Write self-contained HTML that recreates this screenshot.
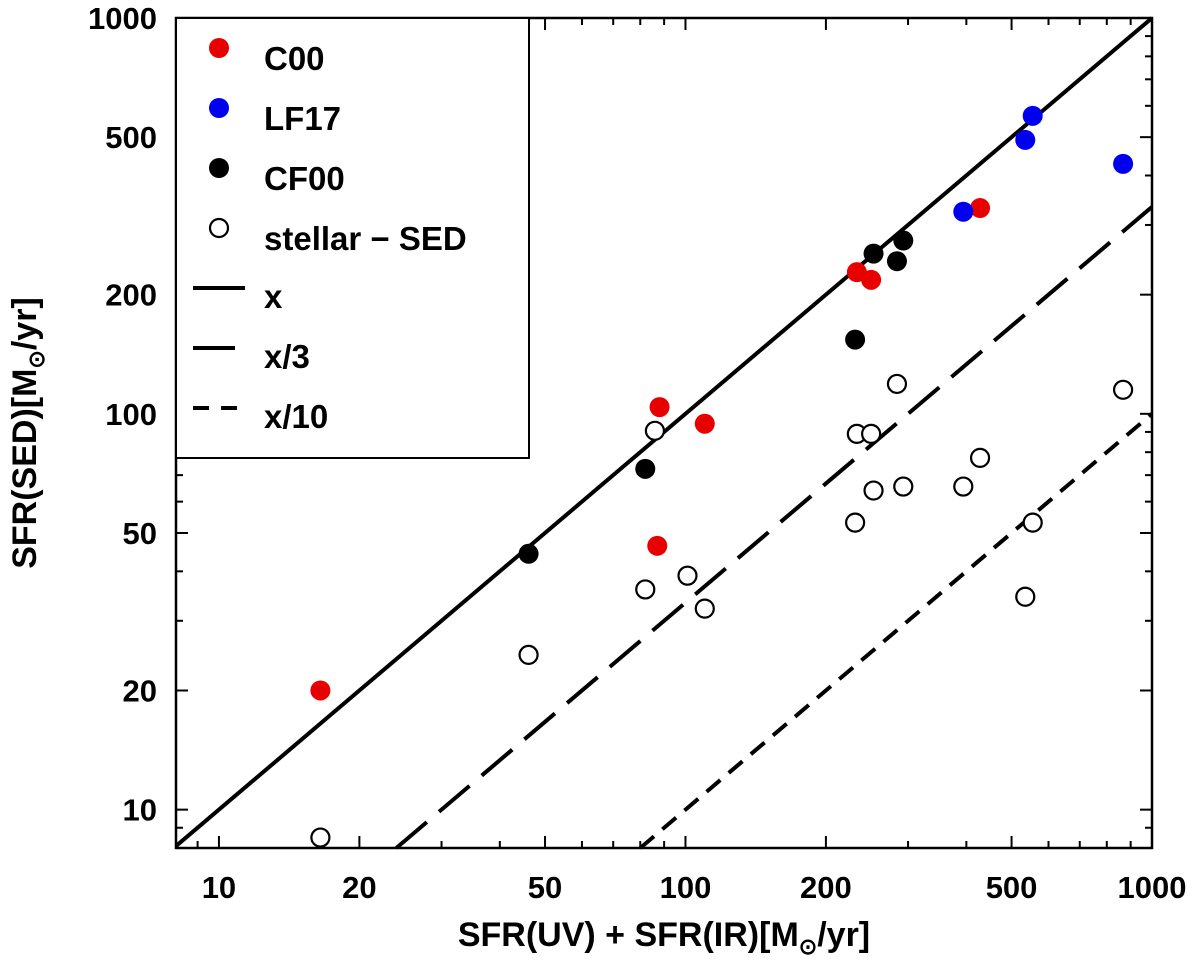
<!DOCTYPE html>
<html><head><meta charset="utf-8"><style>
body{margin:0;background:#fff}
text{font-family:"Liberation Sans",sans-serif;font-weight:bold}
</style></head><body>
<svg id="chart" width="1200" height="962" xmlns="http://www.w3.org/2000/svg">
<g id="lines"></g><g id="pts"></g><g id="axes"></g><g id="legend"></g>
</svg>
<script>
const c00X=[16.5,87,88,110,233,250,428];
const c00Y=[20.0,46.4,104,94.4,228,218,331];
const lf17X=[394,535,555,867];
const lf17Y=[324,492,566,428];
const cf00X=[46.1,82,231,253,284,293];
const cf00Y=[44.3,72.6,154,254,243,274];
const sedX=[16.5,46.1,82,86,101,110,231,233,250,253,284,293,394,428,535,555,867];
const sedY=[8.5,24.6,36,90.6,39,32.2,53.1,89,89,64,119,65.5,65.5,77.4,34.5,53.1,115];
const majorTicks=[10,20,50,100,200,500,1000];
const divisors=[1,3,10];

const L=176,R=1152,T=18,B=848,XMIN=8.09,YMIN=8.0,MAX=1000;
const sx=v=>L+(Math.log10(v)-Math.log10(XMIN))/(3-Math.log10(XMIN))*(R-L);
const sy=v=>B-(Math.log10(v)-Math.log10(YMIN))/(3-Math.log10(YMIN))*(B-T);
const NS="http://www.w3.org/2000/svg";
function mk(tag,attrs,parent){const e=document.createElementNS(NS,tag);for(const k in attrs)e.setAttribute(k,attrs[k]);parent.appendChild(e);return e;}

const lines=document.getElementById('lines');
const dashes=["none","40 16","18 11"];
const lineNames=['line-x','line-x-over-3','line-x-over-10'];
divisors.forEach((d,i)=>{
  let x0=Math.max(XMIN,YMIN*d),x1=MAX;
  const e=mk('line',{x1:sx(x0),y1:sy(x0/d),x2:sx(x1),y2:sy(x1/d),stroke:'#000','stroke-width':4,'stroke-dasharray':dashes[i]},lines);
  
  
});

const pts=document.getElementById('pts');
function series(xs,ys,fill,name){
  xs.forEach((x,i)=>{
    const e=mk('circle',{cx:sx(x),cy:sy(ys[i]),r:fill==='none'?9:10,fill:fill==='none'?'#fff':fill,stroke:fill==='none'?'#000':fill,'stroke-width':fill==='none'?2.2:0},pts);
    
    
  });
}
series(sedX,sedY,'none','stellar-sed-point');
series(c00X,c00Y,'#e80000','c00-point');
series(lf17X,lf17Y,'#0000f0','lf17-point');
series(cf00X,cf00Y,'#000','cf00-point');

const ax=document.getElementById('axes');
const fr=mk('rect',{x:L,y:T,width:R-L,height:B-T,fill:'none',stroke:'#000','stroke-width':2.5},ax);


for(let dec=1;dec<=1000;dec*=10){for(let m=1;m<10;m++){const v=dec*m;if(v>1000)break;
  const maj=majorTicks.includes(v);const len=maj?12:7;
  if(v>=XMIN){mk('line',{x1:sx(v),x2:sx(v),y1:B,y2:B-len,stroke:'#000','stroke-width':2},ax);mk('line',{x1:sx(v),x2:sx(v),y1:T,y2:T+len,stroke:'#000','stroke-width':2},ax);}
  if(v>=YMIN){mk('line',{y1:sy(v),y2:sy(v),x1:L,x2:L+len,stroke:'#000','stroke-width':2},ax);mk('line',{y1:sy(v),y2:sy(v),x1:R,x2:R-len,stroke:'#000','stroke-width':2},ax);}
}}
majorTicks.forEach(v=>{
  const t=mk('text',{x:sx(v),y:B+50,'text-anchor':'middle','font-size':31},ax);t.textContent=v;
  
  
  const u=mk('text',{x:157,y:sy(v)+11,'text-anchor':'end','font-size':31},ax);u.textContent=v;
  
  
});
const xt=mk('text',{x:664,y:946,'text-anchor':'middle','font-size':34},ax);
xt.innerHTML='SFR(UV) + SFR(IR)[M<tspan font-size="22" dy="8">⊙</tspan><tspan dy="-8">/yr]</tspan>';


const yt=mk('text',{x:0,y:0,'text-anchor':'middle','font-size':34,transform:'translate(36,433) rotate(-90)'},ax);
yt.innerHTML='SFR(SED)[M<tspan font-size="22" dy="8">⊙</tspan><tspan dy="-8">/yr]</tspan>';



const lg=document.getElementById('legend');
const box=mk('rect',{x:L,y:T,width:353,height:440,fill:'#fff',stroke:'#000','stroke-width':2},lg);


const entries=[['#e80000','C00'],['#0000f0','LF17'],['#000','CF00'],['none','stellar − SED']];
entries.forEach((e,i)=>{const y=58+i*60;
  const c=mk('circle',{cx:219,cy:y-10,r:e[0]==='none'?9:10,fill:e[0]==='none'?'#fff':e[0],stroke:'#000','stroke-width':e[0]==='none'?2.2:0},lg);
  
  
  const t=mk('text',{x:264,y:y+12,'font-size':33},lg);t.textContent=e[1];
  
  
});
['x','x/3','x/10'].forEach((s,i)=>{const y=298+i*60;
  const l=mk('line',{x1:193,x2:i===0?245:i===1?235:240,y1:y-10,y2:y-10,stroke:'#000','stroke-width':4,'stroke-dasharray':i===2?'16 12':'none'},lg);
  
  
  const t=mk('text',{x:264,y:y+10,'font-size':33},lg);t.textContent=s;
  
  
});
</script>
</body></html>
